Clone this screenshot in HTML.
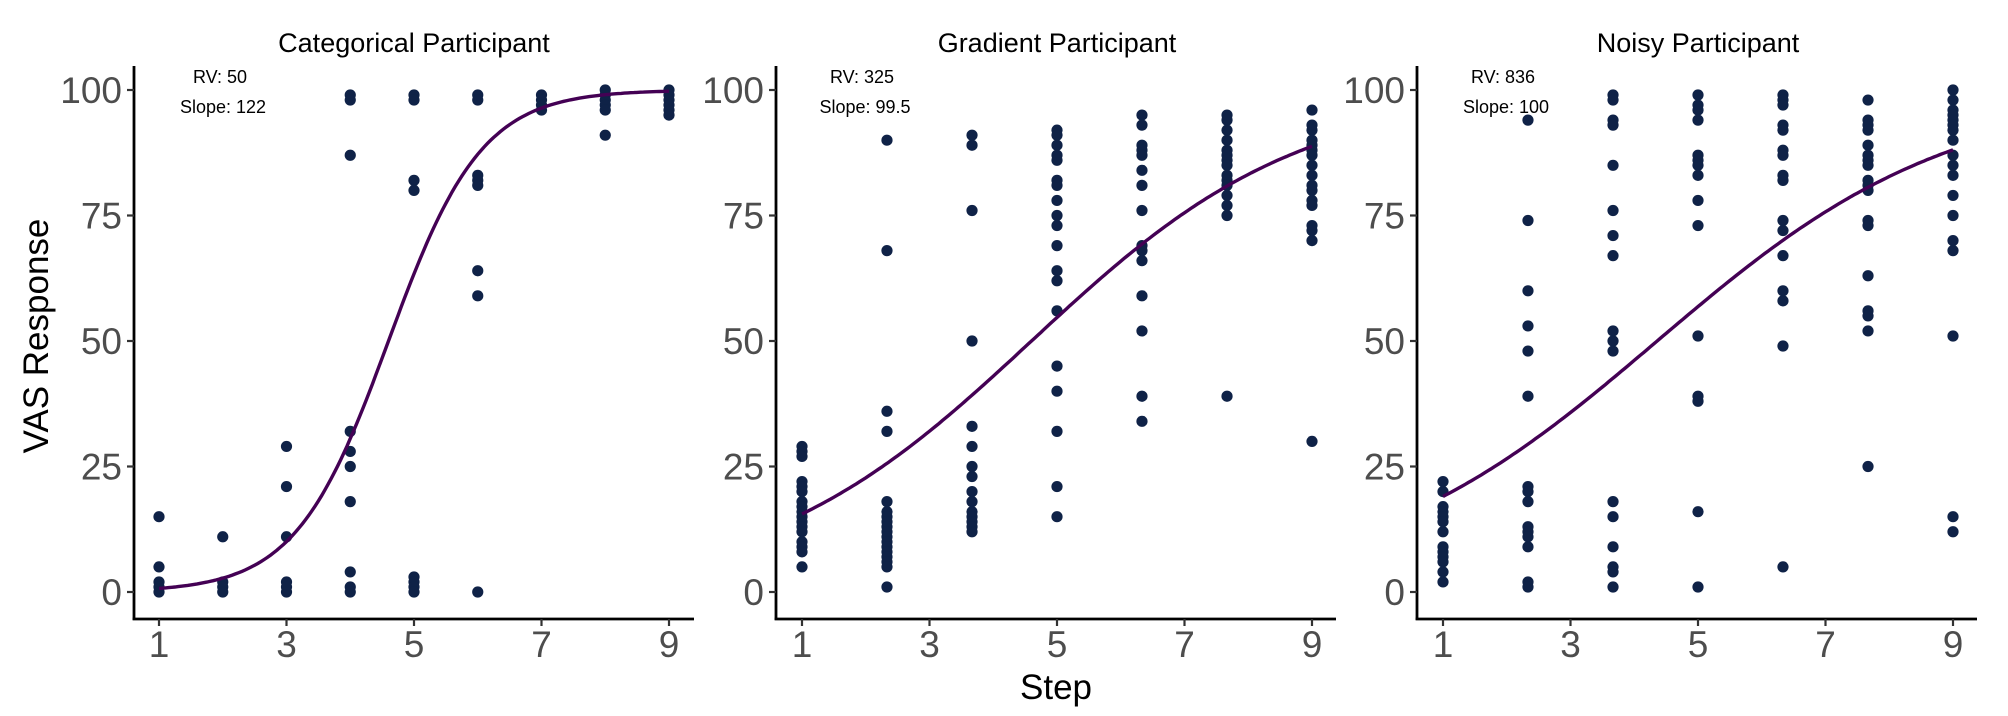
<!DOCTYPE html>
<html><head><meta charset="utf-8"><style>
html,body{margin:0;padding:0;background:#fff;width:2008px;height:716px;overflow:hidden}
svg text{font-family:"Liberation Sans",Arial,sans-serif}
</style></head><body>
<svg id="s" width="2008" height="716" viewBox="0 0 2008 716" xmlns="http://www.w3.org/2000/svg">
<text x="0" y="0" transform="translate(48,336) rotate(-90)" text-anchor="middle" font-size="35" fill="#000">VAS Response</text>
<text x="1056" y="699" text-anchor="middle" font-size="35" fill="#000">Step</text>
</svg>
<script>
var S=document.getElementById('s'),NS='http://www.w3.org/2000/svg';
function el(t,a,txt){var e=document.createElementNS(NS,t);for(var k in a)e.setAttribute(k,a[k]);if(txt!=null)e.textContent=txt;S.appendChild(e);return e;}
var Y0=592,YS=5.02,XA=619;
var panels=[
{ax:134,x1:159,title:"Categorical Participant",rv:"RV: 50",sl:"Slope: 122",k:1.37,x0:4.6,
 xs:[1,2,3,4,5,6,7,8,9],
 d:[[15,5,2,1,0],[11,2,1,0],[29,21,11,2,1,0],[99,98,87,32,28,25,18,4,1,0],[99,98,82,80,3,2,1,0],[99,98,83,82,81,64,59,0],[99,98,97,96],[100,99,98,97,96,91],[100,99,98,97,96,95]]},
{ax:776,x1:802,title:"Gradient Participant",rv:"RV: 325",sl:"Slope: 99.5",k:0.47,x0:4.6,
 xs:[1,2.333,3.667,5,6.333,7.667,9],
 d:[[29,28,27,22,21,20,18,17,16,15,14,13,12,10,9,8,5],[90,68,36,32,18,16,15,14,13,12,11,10,9,8,7,6,5,1],[91,89,76,50,33,29,25,23,20,18,16,15,14,13,12],[92,91,89,87,86,82,81,78,75,73,69,64,62,56,45,40,32,21,15],[95,93,89,88,87,84,81,76,69,68,66,59,52,39,34],[95,94,92,90,88,87,86,85,83,82,81,79,77,75,39],[96,93,92,90,89,88,87,85,83,81,80,78,77,73,72,70,30]]},
{ax:1417,x1:1443,title:"Noisy Participant",rv:"RV: 836",sl:"Slope: 100",k:0.431,x0:4.36,
 xs:[1,2.333,3.667,5,6.333,7.667,9],
 d:[[22,20,17,16,15,14,12,9,8,7,6,4,2],[94,74,60,53,48,39,21,20,18,13,12,11,9,2,1],[99,98,94,93,85,76,71,67,52,50,48,18,15,9,5,4,1],[99,97,96,94,87,86,85,83,78,73,51,39,38,16,1],[99,98,97,93,92,88,87,83,82,74,72,67,60,58,49,5],[98,94,93,92,89,87,86,85,82,81,80,74,73,63,56,55,52,25],[100,98,96,95,94,93,92,90,87,85,83,79,75,70,68,51,15,12]]}
];
panels.forEach(function(p){
 var XS=63.75;function X(v){return p.x1+(v-1)*XS;}function Yv(v){return Y0-v*YS;}
 var cx=(p.x1+X(9))/2;
 el('text',{x:cx,y:52,'text-anchor':'middle','font-size':27,fill:'#000'},p.title);
 el('line',{x1:p.ax,y1:66,x2:p.ax,y2:XA+1,stroke:'#000','stroke-width':2.8});
 el('line',{x1:p.ax-1.4,y1:XA,x2:p.ax+560,y2:XA,stroke:'#000','stroke-width':2.8});
 [0,25,50,75,100].forEach(function(v){var y=Yv(v);
  el('line',{x1:p.ax-7,y1:y,x2:p.ax,y2:y,stroke:'#333','stroke-width':2.2});
  el('text',{x:p.ax-12,y:y+13,'text-anchor':'end','font-size':37,fill:'#4d4d4d'},String(v));});
 [1,3,5,7,9].forEach(function(v){var x=X(v);
  el('line',{x1:x,y1:XA,x2:x,y2:XA+7,stroke:'#333','stroke-width':2.2});
  el('text',{x:x,y:XA+38,'text-anchor':'middle','font-size':37,fill:'#4d4d4d'},String(v));});
 p.d.forEach(function(col,i){col.forEach(function(v){
  el('circle',{cx:X(p.xs[i]),cy:Yv(v),r:5.6,fill:'#0f2247'});});});
 var pts=[];for(var t=1;t<=9.0001;t+=0.05){var v=100/(1+Math.exp(-p.k*(t-p.x0)));pts.push(X(t).toFixed(1)+','+Yv(v).toFixed(1));}
 el('polyline',{points:pts.join(' '),fill:'none',stroke:'#440154','stroke-width':3.4});
 el('text',{x:p.ax+86,y:83,'text-anchor':'middle','font-size':18,fill:'#000'},p.rv);
 el('text',{x:p.ax+89,y:113,'text-anchor':'middle','font-size':18,fill:'#000'},p.sl);
});
</script>
</body></html>
